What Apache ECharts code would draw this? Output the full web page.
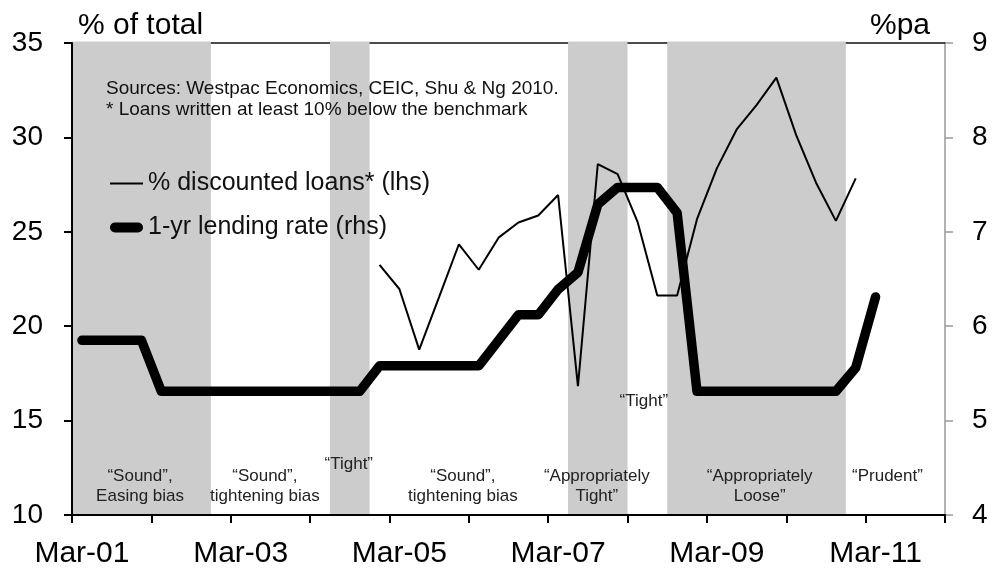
<!DOCTYPE html>
<html><head><meta charset="utf-8">
<script src="https://cdn.jsdelivr.net/npm/echarts@6/dist/echarts.min.js"></script>
<style>html,body{margin:0;padding:0;background:#fff}#c{width:992px;height:569px}</style>
</head><body><div id="c"></div>
<script>
const FF = "'Liberation Sans', Arial, Helvetica, sans-serif";

const categories = [
 'Mar-01','Jun-01','Sep-01','Dec-01','Mar-02','Jun-02','Sep-02','Dec-02',
 'Mar-03','Jun-03','Sep-03','Dec-03','Mar-04','Jun-04','Sep-04','Dec-04',
 'Mar-05','Jun-05','Sep-05','Dec-05','Mar-06','Jun-06','Sep-06','Dec-06',
 'Mar-07','Jun-07','Sep-07','Dec-07','Mar-08','Jun-08','Sep-08','Dec-08',
 'Mar-09','Jun-09','Sep-09','Dec-09','Mar-10','Jun-10','Sep-10','Dec-10',
 'Mar-11','Jun-11','Sep-11','Dec-11'
];

// % discounted loans (lhs)
const discountedLoans = [
 null,null,null,null,null,null,null,null,null,null,null,null,null,null,null,
 23.25,21.97,18.76,21.54,24.34,22.99,24.69,25.49,25.86,26.95,16.82,28.59,28.06,
 25.54,21.63,21.63,25.67,28.36,30.42,31.71,33.17,30.12,27.6,25.58,27.83,
 null,null,null,null
];

// 1-yr lending rate (rhs)
const lendingRate = [
 5.85,5.85,5.85,5.85,
 5.31,5.31,5.31,5.31,5.31,5.31,5.31,5.31,5.31,5.31,5.31,
 5.58,5.58,5.58,5.58,5.58,5.58,
 5.85,6.12,6.12,6.39,6.57,7.29,7.47,7.47,7.47,7.20,
 5.31,5.31,5.31,5.31,5.31,5.31,5.31,5.31,
 5.56,6.31,
 null,null,null
];

// policy-stance shading (1 = shaded period)
const shaded = [
 1,1,1,1,1,1,1, 0,0,0,0,0,0, 1,1, 0,0,0,0,0,0,0,0,0,0,
 1,1,1, 0,0, 1,1,1,1,1,1,1,1,1, 0,0,0,0,0
];

const seriesNames = ['% discounted loans* (lhs)', '1-yr lending rate (rhs)'];
const leftTicks = {min: 10, max: 35, interval: 5};
const rightTicks = {min: 4, max: 9, interval: 1};
const sourceLines = ['Sources: Westpac Economics, CEIC, Shu & Ng 2010.', '* Loans written at least 10% below the benchmark'];

// stance labels: category position (fractional index) and lhs value
const stanceLabels = [
 {text: '\u201cSound\u201d,\nEasing bias', cat: 2.93, val: 11.5},
 {text: '\u201cSound\u201d,\ntightening bias', cat: 9.22, val: 11.5},
 {text: '\u201cTight\u201d', cat: 13.45, val: 12.68},
 {text: '\u201cSound\u201d,\ntightening bias', cat: 19.2, val: 11.5},
 {text: '\u201cAppropriately\nTight\u201d', cat: 25.95, val: 11.5},
 {text: '\u201cTight\u201d', cat: 28.32, val: 16.01},
 {text: '\u201cAppropriately\nLoose\u201d', cat: 34.16, val: 11.5},
 {text: '\u201cPrudent\u201d', cat: 40.6, val: 12.05}
];

// contiguous shaded runs [startIndex, endIndex]
const shadeRuns = [];
shaded.forEach((f, i) => {
  if (f && (i === 0 || !shaded[i - 1])) shadeRuns.push([i, i]);
  else if (f) shadeRuns[shadeRuns.length - 1][1] = i;
});

const chart = echarts.init(document.getElementById('c'), null, {renderer: 'canvas'});

const option = {
  animation: false,
  backgroundColor: '#ffffff',
  title: {
    text: sourceLines.join('\n'),
    left: 106, top: 78, padding: 0,
    textStyle: {fontFamily: FF, fontSize: 19, fontWeight: 'normal', color: '#111', lineHeight: 21}
  },
  legend: {
    orient: 'vertical', left: 110, top: 171, padding: 0,
    itemWidth: 33, itemHeight: 14, itemGap: 19,
    selectedMode: false,
    textStyle: {fontFamily: FF, fontSize: 25, color: '#111'},
    data: [
      {name: seriesNames[0], icon: 'path://M0,0H33V2H0Z'},
      {name: seriesNames[1], icon: 'path://M5,0H28A5,5 0 0 1 28,10H5A5,5 0 0 1 5,0Z'}
    ]
  },
  grid: {left: 72, right: 47, top: 43, bottom: 53, containLabel: false},
  xAxis: [
    {
      type: 'category', data: categories, boundaryGap: true, z: 5,
      axisLine: {lineStyle: {color: '#000', width: 2}},
      axisTick: {show: true, interval: 3, length: 8, lineStyle: {color: '#000', width: 2}},
      axisLabel: {interval: 7, fontFamily: FF, fontSize: 30, color: '#000', margin: 24},
      splitLine: {show: false}
    },
    {
      type: 'category', data: categories, position: 'top', z: 0,
      axisLine: {lineStyle: {color: '#111', width: 1.5}},
      axisTick: {show: false}, axisLabel: {show: false}, splitLine: {show: false}
    }
  ],
  yAxis: [
    {
      type: 'value', min: leftTicks.min, max: leftTicks.max, interval: leftTicks.interval, z: 5,
      name: '% of total', nameLocation: 'end', nameGap: 2,
      nameTextStyle: {fontFamily: FF, fontSize: 30, color: '#000', align: 'left', verticalAlign: 'bottom', padding: [0, 0, 0, 6]},
      axisLine: {show: true, lineStyle: {color: '#000', width: 2}},
      axisTick: {show: true, length: 8, lineStyle: {color: '#000', width: 2}},
      axisLabel: {fontFamily: FF, fontSize: 28, color: '#000', margin: 29},
      splitLine: {show: false}
    },
    {
      type: 'value', min: rightTicks.min, max: rightTicks.max, interval: rightTicks.interval, position: 'right',
      name: '%pa', nameLocation: 'end', nameGap: 2,
      nameTextStyle: {fontFamily: FF, fontSize: 30, color: '#000', align: 'right', verticalAlign: 'bottom', padding: [0, 15, 0, 0]},
      axisLine: {show: true, lineStyle: {color: '#999', width: 1.5}},
      axisTick: {show: true, length: 8, lineStyle: {color: '#999', width: 1.5}},
      axisLabel: {fontFamily: FF, fontSize: 28, color: '#000', margin: 27},
      splitLine: {show: false}
    }
  ],
  series: [
    {
      name: 'shade', type: 'custom', xAxisIndex: 0, yAxisIndex: 0, silent: true, z: 1,
      encode: {x: [0, 1]},
      data: shadeRuns,
      renderItem: function (params, api) {
        const bw = api.size([1, 0])[0];
        const a = api.coord([api.value(0), leftTicks.max]);
        const b = api.coord([api.value(1), leftTicks.min]);
        const x = a[0] - bw / 2;
        const w = b[0] - a[0] + bw;
        return {
          type: 'rect',
          shape: {x: x, y: a[1] - 1.5, width: w, height: b[1] - a[1] + 1.5},
          style: {fill: '#cccccc'}
        };
      }
    },
    {
      name: seriesNames[0], type: 'line', yAxisIndex: 0, symbol: 'none', z: 3,
      lineStyle: {color: '#000', width: 2},
      itemStyle: {color: '#000'},
      data: discountedLoans.map(v => v == null ? '-' : v)
    },
    {
      name: seriesNames[1], type: 'line', yAxisIndex: 1, symbol: 'none', z: 4,
      lineStyle: {color: '#000', width: 9.5, cap: 'round', join: 'round'},
      itemStyle: {color: '#000'},
      data: lendingRate.map(v => v == null ? '-' : v)
    }
  ]
};

chart.setOption(option);

const x0 = chart.convertToPixel({xAxisIndex: 0}, 0);
const x1 = chart.convertToPixel({xAxisIndex: 0}, 1);
const step = x1 - x0;
const graphics = stanceLabels.map(l => ({
  type: 'text',
  x: x0 + step * l.cat,
  y: chart.convertToPixel({yAxisIndex: 0}, l.val),
  z: 10,
  style: {
    text: l.text, fontFamily: FF, fontSize: 17, fill: '#222',
    align: 'center', verticalAlign: 'middle', lineHeight: 20
  }
}));
chart.setOption({graphic: graphics});
</script>
</body></html>
